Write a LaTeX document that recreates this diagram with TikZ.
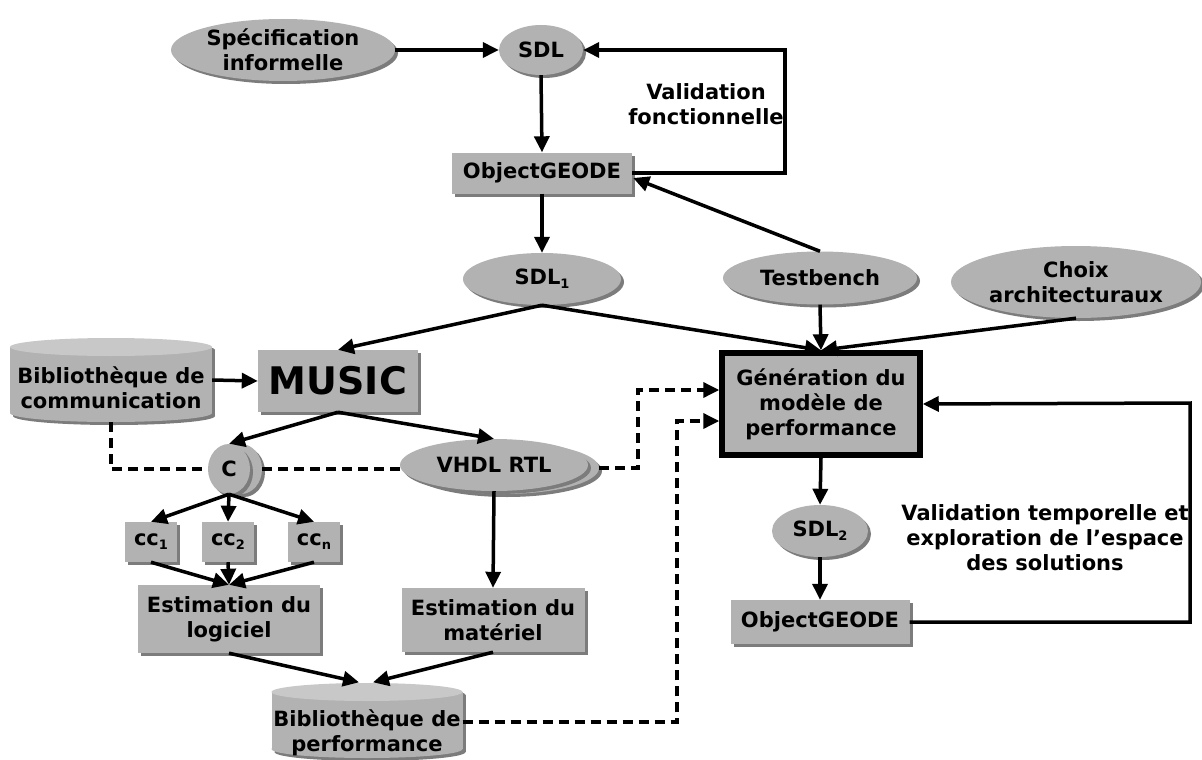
\documentclass[tikz,border=0pt]{standalone}
\usepackage{fontspec}
\setmainfont{DejaVu Sans}
\usetikzlibrary{arrows.meta,shapes.geometric,shadows,calc}
\definecolor{ng}{HTML}{B2B2B2}
\definecolor{sg}{HTML}{7C7C7C}
\definecolor{tg}{HTML}{C8C8C8}
\newcommand\mysub[1]{\raisebox{-0.35ex}{\fontsize{13}{13}\selectfont#1}}
\tikzset{
  base/.style={font=\bfseries\fontsize{21}{25}\selectfont, text=black, align=center, inner sep=0pt},
  shadowed/.style={general shadow={fill=sg, shadow xshift=3pt, shadow yshift=-3pt}},
  ell/.style={base, ellipse, fill=ng, shadowed},
  box/.style={base, rectangle, fill=ng, shadowed},
  genbox/.style={base, rectangle, fill=ng, draw=black, line width=5.5pt},
  cylanchor/.style={base, rectangle},
  lbl/.style={base},
  arr/.style={-{Triangle[length=16pt,width=15pt]}, line width=3.5pt},
  dsh/.style={line width=3.5pt, dash pattern=on 10pt off 6pt},
  dsharr/.style={dsh, -{Triangle[length=16pt,width=15pt]}},
}
\begin{document}
\begin{tikzpicture}[x=1pt,y=-1pt]
\useasboundingbox[fill=white] (0,0) rectangle (1202,760);
% cylinder bodies (drawn shapes)
\fill[sg] (13,350) rectangle (215,416);
\fill[sg] (114,416) ellipse [x radius=101, y radius=9];
\fill[sg] (114,350) ellipse [x radius=101, y radius=9];
\fill[ng] (10,347) rectangle (212,413);
\fill[ng] (111,413) ellipse [x radius=101, y radius=9];
\fill[tg] (111,347) ellipse [x radius=101, y radius=9];
\fill[sg] (275,695) rectangle (466,752);
\fill[sg] (370,752) ellipse [x radius=95.5, y radius=9];
\fill[sg] (370,695) ellipse [x radius=95.5, y radius=9];
\fill[ng] (272,692) rectangle (463,749);
\fill[ng] (367,749) ellipse [x radius=95.5, y radius=9];
\fill[tg] (367,692) ellipse [x radius=95.5, y radius=9];
% nodes
\node[ell, minimum width=224, minimum height=62] (spec) at (283,50) {Spécification\\informelle};
\node[ell, minimum width=84, minimum height=50] (sdl) at (541,50) {SDL};
\node[box, minimum width=180, minimum height=41] (og1) at (542,173) {ObjectGEODE};
\node[ell, minimum width=158, minimum height=52] (sdl1) at (542,279) {SDL\mysub{1}};
\node[ell, minimum width=194, minimum height=53] (tb) at (820,278) {Testbench};
\node[ell, minimum width=250, minimum height=72] (choix) at (1076,282) {Choix\\architecturaux};
\node[genbox, minimum width=198, minimum height=102] (gen) at (821,404) {Génération du\\modèle de\\performance};
\node[box, minimum width=160, minimum height=62, font=\bfseries\fontsize{38}{40}\selectfont] (music) at (338,381) {MUSIC};
\node[cylanchor, minimum width=202, minimum height=84] (bc) at (111,380) {};
\node[base] (bct) at (111,388) {Bibliothèque de\\communication};
\node[ell, minimum width=42, minimum height=50] (cb) at (241,469) {};
\node[ell, minimum width=42, minimum height=50] (c) at (229,469) {C};
\node[ell, minimum width=190, minimum height=52] (vb) at (504,468) {};
\node[ell, minimum width=188, minimum height=52] (vhdl) at (494,465) {VHDL RTL};
\node[box, minimum width=52, minimum height=40] (cc1) at (151,542) {cc\mysub{1}};
\node[box, minimum width=52, minimum height=40] (cc2) at (228,542) {cc\mysub{2}};
\node[box, minimum width=52, minimum height=40] (ccn) at (314,542) {cc\mysub{n}};
\node[box, minimum width=182, minimum height=68] (el) at (229,619) {Estimation du\\logiciel};
\node[box, minimum width=183, minimum height=64] (em) at (493,620) {Estimation du\\matériel};
\node[cylanchor, minimum width=191, minimum height=75] (bp) at (367,720) {};
\node[base] (bpt) at (367,733) {Bibliothèque de\\performance};
\node[ell, minimum width=96, minimum height=52] (sdl2) at (820,531) {SDL\mysub{2}};
\node[box, minimum width=179, minimum height=44] (og2) at (820,622) {ObjectGEODE};
\node[lbl] (vf) at (706,104) {Validation\\fonctionnelle};
\node[lbl] (vt) at (1045,538) {Validation temporelle et\\exploration de l’espace\\des solutions};
% coordinates
\coordinate (f1) at (785,50);
\coordinate (f2) at (1190,403);
\coordinate (d1) at (638,390);
\coordinate (d2) at (677,421);
\coordinate (d3) at (463,722);
% connectors
\draw[arr] (spec.east) -- (sdl.west);
\draw[arr] (sdl.south) -- (og1.north);
\draw[arr] (og1.east) -| (f1) -- (sdl.east);
\draw[arr] (tb.north) -- ($(og1.east)+(1,5)$);
\draw[arr] (og1.south) -- (sdl1.north);
\draw[arr] (sdl1.south) -- (music.north);
\draw[arr] (sdl1.south) -- (gen.north);
\draw[arr] (tb.south) -- (gen.north);
\draw[arr] (choix.south) -- (gen.north);
\draw[arr] (bc.east) -- (music.west);
\draw[arr] (music.south) -- (c.north);
\draw[arr] (music.south) -- (vhdl.north);
\draw[arr] (vhdl.south) -- (em.north);
\draw[arr] (c.south) -- (cc1.north);
\draw[arr] (c.south) -- (cc2.north);
\draw[arr] (c.south) -- (ccn.north);
\draw[arr] (cc1.south) -- (el.north);
\draw[arr] (cc2.south) -- (el.north);
\draw[arr] (ccn.south) -- (el.north);
\draw[arr] (el.south) -- ($(bp.north)+(-8,0)$);
\draw[arr] (em.south) -- ($(bp.north)+(6,0)$);
\draw[arr] (gen.south) -- (sdl2.north);
\draw[arr] (sdl2.south) -- (og2.north);
\draw[arr] (og2.east) -| (f2) -- (gen.east);
\draw[dsh] (bc.south) |- (c.west);
\draw[dsh] (cb.east) -- (cb.east -| vhdl.west);
\draw[dsharr] (vb.east) -| (d1) -- (d1 -| gen.west);
\draw[dsharr] (bp.east |- d3) -| (d2) -- (d2 -| gen.west);
\end{tikzpicture}
\end{document}
